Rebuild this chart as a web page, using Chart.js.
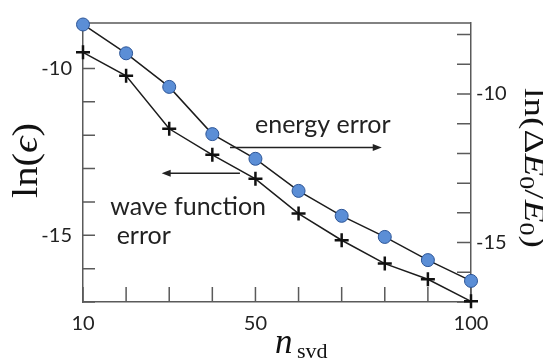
<!DOCTYPE html>
<html><head><meta charset="utf-8">
<script src="https://cdn.jsdelivr.net/npm/chart.js@4/dist/chart.umd.min.js"></script>
<style>html,body{margin:0;padding:0;background:#fff;overflow:hidden}</style>
</head><body>
<canvas id="c" width="543" height="362"></canvas>
<script>
// ---- data ----
const nsvd = [10, 20, 30, 40, 50, 60, 70, 80, 90, 100];
const energyError = [-7.66, -8.63, -9.76, -11.35, -12.18, -13.26, -14.10, -14.81, -15.59, -16.29];
const waveFunctionError = [-9.52, -10.22, -11.81, -12.59, -13.31, -14.35, -15.15, -15.85, -16.32, -16.98];
const xTicks = [10, 20, 30, 40, 50, 60, 70, 80, 90, 100];
const xTickLabels = ['10', '50', '100'];
const leftTicks = [-17, -16, -15, -14, -13, -12, -11, -10];
const rightTicks = [-17, -16, -15, -14, -13, -12, -11, -10, -9, -8];
const yTickLabels = ['-10', '-15'];
const energyLabel = 'energy error';
const waveLabel1 = 'wave function';
const waveLabel2 = 'error';

const AX = '#5a5a5a';
const TXT = '#222';
const tickFont = { family: 'Lato', size: 20 };

function setTicks(list) { return s => { s.ticks = list.map(v => ({ value: v })); }; }

function richText(ctx, runs, cx, cy, angle, targetW) {
  let w = 0;
  runs.forEach(r => { ctx.font = r.f; r.w = ctx.measureText(r.t).width; w += r.w; });
  const sx = targetW ? targetW / w : 1;
  ctx.save();
  ctx.translate(cx, cy);
  ctx.rotate(angle);
  ctx.scale(sx, 1);
  ctx.fillStyle = '#111';
  ctx.textBaseline = 'alphabetic';
  ctx.textAlign = 'left';
  let x = -w / 2;
  runs.forEach(r => { ctx.font = r.f; ctx.fillText(r.t, x, r.dy || 0); x += r.w; });
  ctx.restore();
}

function arrow(ctx, x1, y, x2) {
  ctx.save();
  ctx.strokeStyle = '#222'; ctx.fillStyle = '#222'; ctx.lineWidth = 1.5;
  const d = Math.sign(x2 - x1);
  ctx.beginPath(); ctx.moveTo(x1, y); ctx.lineTo(x2 - d * 6, y); ctx.stroke();
  ctx.beginPath(); ctx.moveTo(x2, y); ctx.lineTo(x2 - d * 9, y - 3.5); ctx.lineTo(x2 - d * 9, y + 3.5); ctx.closePath(); ctx.fill();
  ctx.restore();
}

const decor = {
  id: 'decor',
  beforeDatasetsDraw(chart) {
    const { ctx, chartArea: a, scales } = chart;
    ctx.save();
    ctx.strokeStyle = AX; ctx.lineWidth = 1.5;
    ctx.beginPath();
    ctx.moveTo(a.left, a.top); ctx.lineTo(a.right, a.top);
    xTicks.forEach(v => { const p = scales.x.getPixelForValue(v); ctx.moveTo(p, a.bottom); ctx.lineTo(p, a.bottom - 15); });
    leftTicks.forEach(v => { const p = scales.yL.getPixelForValue(v); ctx.moveTo(a.left, p); ctx.lineTo(a.left + 12, p); });
    rightTicks.forEach(v => { const p = scales.yR.getPixelForValue(v); ctx.moveTo(a.right, p); ctx.lineTo(a.right - 14, p); });
    ctx.stroke();
    ctx.restore();
  },
  afterDraw(chart) {
    const { ctx, scales } = chart;
    const X = v => scales.x.getPixelForValue(v), Y = v => scales.yL.getPixelForValue(v);
    ctx.save();
    ctx.fillStyle = TXT;
    ctx.font = '25px Lato';
    ctx.textBaseline = 'alphabetic';
    ctx.fillText(energyLabel, X(49.9), Y(-11.94));
    ctx.fillText(waveLabel1, X(16.3), Y(-14.38));
    ctx.fillText(waveLabel2, X(17.8), Y(-15.27));
    ctx.restore();
    arrow(ctx, X(44.1), Y(-12.37), X(79.3));
    arrow(ctx, X(46.4), Y(-13.14), X(28.25));

    const S = 'Liberation Serif, DejaVu Serif, serif';
    // left axis title
    richText(ctx, [
      { t: 'ln', f: `35px ${S}` }, { t: '(', f: `35px ${S}` },
      { t: 'ϵ', f: `italic 35px ${S}` }, { t: ')', f: `35px ${S}` }
    ], 37, 160.5, -Math.PI / 2, 75);
    // right axis title
    richText(ctx, [
      { t: 'ln', f: `30px ${S}` }, { t: '(', f: `30px ${S}` },
      { t: 'Δ', f: `30px ${S}` }, { t: 'E', f: `italic 30px ${S}` },
      { t: '0', f: `21px ${S}`, dy: 5 }, { t: '/', f: `30px ${S}` },
      { t: 'E', f: `italic 30px ${S}` }, { t: '0', f: `21px ${S}`, dy: 5 },
      { t: ')', f: `30px ${S}` }
    ], 525, 168, Math.PI / 2, 160);
    // x axis title
    ctx.save();
    ctx.fillStyle = '#111';
    ctx.textBaseline = 'alphabetic';
    ctx.font = `italic 35px ${S}`;
    ctx.fillText('n', 275, 353);
    ctx.font = `22px ${S}`;
    ctx.fillText('svd', 297, 358);
    ctx.restore();
  }
};

new Chart(document.getElementById('c'), {
  type: 'line',
  data: {
    datasets: [
      {
        label: energyLabel,
        data: nsvd.map((x, i) => ({ x, y: energyError[i] })),
        yAxisID: 'yR',
        borderColor: '#1c1c1c', borderWidth: 1.5, tension: 0,
        pointStyle: 'circle', pointRadius: 6.5,
        pointBackgroundColor: '#5b8ed6', pointBorderColor: '#2c5597', pointBorderWidth: 1,
        clip: false
      },
      {
        label: waveLabel1 + ' ' + waveLabel2,
        data: nsvd.map((x, i) => ({ x, y: waveFunctionError[i] })),
        yAxisID: 'yL',
        borderColor: '#1c1c1c', borderWidth: 1.5, tension: 0,
        pointStyle: 'cross', pointRadius: 7,
        pointBackgroundColor: '#111', pointBorderColor: '#111', pointBorderWidth: 2.5,
        clip: false
      }
    ]
  },
  options: {
    responsive: false,
    animation: false,
    devicePixelRatio: 1,
    layout: { padding: { top: 13, left: 0, right: 0, bottom: 0 } },
    plugins: { legend: { display: false }, tooltip: { enabled: false } },
    scales: {
      x: {
        type: 'linear', min: 10, max: 100,
        afterBuildTicks: setTicks(xTicks),
        afterFit: s => { s.height = 60; },
        grid: { display: true, drawOnChartArea: false, drawTicks: false },
        border: { display: true, color: AX, width: 1.5 },
        ticks: {
          autoSkip: false, maxRotation: 0, padding: 10, color: TXT, font: tickFont,
          callback: v => xTickLabels.includes(String(v)) ? String(v) : ''
        }
      },
      yL: {
        type: 'linear', position: 'left', min: -17, max: -8.64,
        afterBuildTicks: setTicks(leftTicks),
        afterFit: s => { s.width = 83; },
        grid: { display: true, drawOnChartArea: false, drawTicks: false },
        border: { display: true, color: AX, width: 1.5 },
        ticks: {
          autoSkip: false, padding: 11, color: TXT, font: tickFont,
          callback: v => yTickLabels.includes(String(v)) ? String(v) : ''
        }
      },
      yR: {
        type: 'linear', position: 'right', min: -17, max: -7.61,
        afterBuildTicks: setTicks(rightTicks),
        afterFit: s => { s.width = 72; },
        grid: { display: true, drawOnChartArea: false, drawTicks: false },
        border: { display: true, color: AX, width: 1.5 },
        ticks: {
          autoSkip: false, padding: 5, color: TXT, font: tickFont,
          callback: v => yTickLabels.includes(String(v)) ? String(v) : ''
        }
      }
    }
  },
  plugins: [decor]
});
</script>
</body></html>
